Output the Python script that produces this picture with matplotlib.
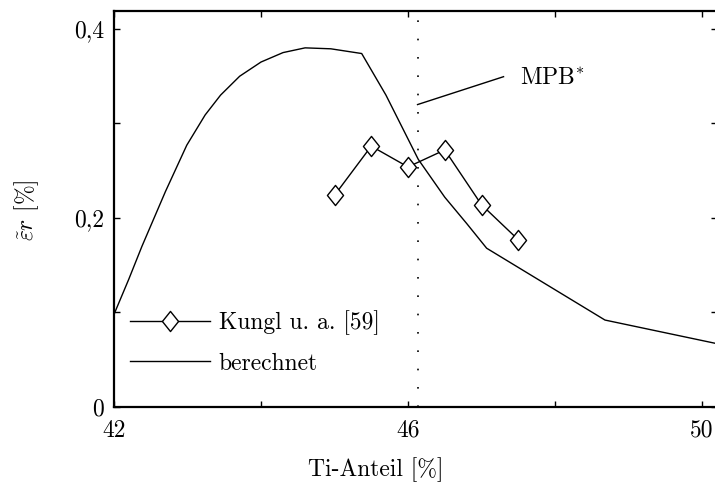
import matplotlib
matplotlib.use("Agg")
import matplotlib.pyplot as plt
from matplotlib.path import Path

plt.rcParams['font.family'] = 'serif'
plt.rcParams['font.serif'] = ['cmr10']
plt.rcParams['mathtext.fontset'] = 'cm'
plt.rcParams['axes.formatter.use_mathtext'] = True

# computed strain curve
calc_x = [42.0, 42.2, 42.38, 42.7, 42.99, 43.24, 43.45, 43.71, 44.0, 44.3, 44.6,
          44.95, 45.37, 45.7, 46.14, 46.5, 46.8, 47.07, 48.68, 50.18]
calc_y = [0.098, 0.135, 0.170, 0.228, 0.277, 0.309, 0.330, 0.350, 0.365, 0.375, 0.380,
          0.379, 0.374, 0.330, 0.262, 0.222, 0.194, 0.168, 0.092, 0.0674]

# measured values (Kungl u. a.)
meas_x = [45.0, 45.5, 46.0, 46.5, 47.0, 47.5]
meas_y = [0.224, 0.276, 0.254, 0.272, 0.214, 0.177]

mpb_x = 46.13

xticks = [42, 44, 46, 48, 50]
xticklabels = ['42', '', '46', '', '50']
yticks = [0.0, 0.1, 0.2, 0.3, 0.4]
yticklabels = ['0', '', '0,2', '', '0,4']

diamond = Path([(0, 1), (0.8, 0), (0, -1), (-0.8, 0), (0, 1)],
               [Path.MOVETO, Path.LINETO, Path.LINETO, Path.LINETO, Path.CLOSEPOLY])

fig = plt.figure(figsize=(7.15, 4.95), dpi=100)
ax = fig.add_axes([114 / 715, 88 / 495, 602.7 / 715, 396 / 495])

ax.plot(meas_x, meas_y, color='black', lw=1.0, marker=diamond, ms=14.5,
        mfc='white', mec='black', mew=1.0, label='Kungl u. a. [59]', zorder=3)
ax.plot(calc_x, calc_y, color='black', lw=1.0, label='berechnet', zorder=2)

ax.axvline(mpb_x, color='black', lw=1.2, linestyle=(0, (1, 10)), zorder=1)
ax.plot([mpb_x, 47.30], [0.320, 0.3495], color='black', lw=1.0)
ax.text(47.52, 0.3485, 'MPB$^{*}$', fontsize=17, va='center', ha='left')

ax.set_xlim(42, 50.2)
ax.set_ylim(0, 0.419)
ax.set_xticks(xticks)
ax.set_xticklabels(xticklabels)
ax.set_yticks(yticks)
ax.set_yticklabels(yticklabels)
ax.tick_params(direction='in', length=4, width=1, top=True, right=True,
               labelsize=17, colors='black')
ax.tick_params(axis='x', pad=9)
ax.tick_params(axis='y', pad=7)
for sp in ax.spines.values():
    sp.set_linewidth(1.6)

fig.text(376 / 715, 1 - 470 / 495, 'Ti-Anteil [%]', fontsize=17, ha='center', va='center')
fig.text(27 / 715, 1 - 210 / 495, r'$\tilde{\varepsilon}r$ [%]', fontsize=17,
         rotation=90, ha='center', va='center')

ax.legend(loc='upper left', bbox_to_anchor=(0.0265, 0.245), frameon=False,
          fontsize=17, handlelength=3.4, handletextpad=0.35, labelspacing=0.75,
          borderpad=0, borderaxespad=0)

fig.savefig('out.png', dpi=100)
